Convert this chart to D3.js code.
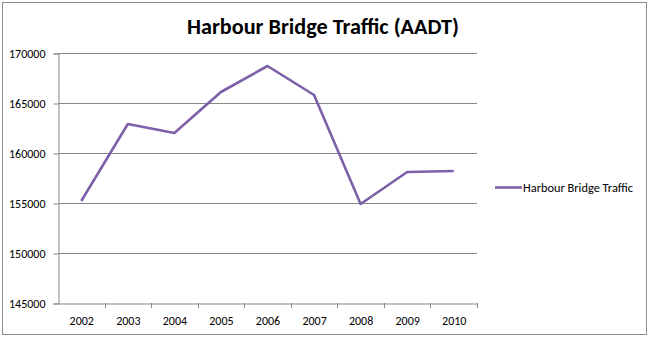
<!DOCTYPE html>
<html><head><meta charset="utf-8">
<script src="https://cdn.jsdelivr.net/npm/d3@7"></script>
<style>body{margin:0;background:#fff}svg{display:block}</style>
</head><body>
<svg id="c" width="650" height="337"></svg>
<script>
const years = ["2002","2003","2004","2005","2006","2007","2008","2009","2010"];
const traffic = [155200,162900,162000,166100,168700,165800,154900,158100,158200];
const yTicks = [145000,150000,155000,160000,165000,170000];
const title = "Harbour Bridge Traffic (AADT)";
const seriesName = "Harbour Bridge Traffic";

const svg = d3.select("#c");
const L=58, R=477, T=53, B=303;
const font = "Calibri, Carlito, 'Open Sans', 'DejaVu Sans', sans-serif";

svg.append("rect").attr("x",2.5).attr("y",2.5).attr("width",644).attr("height",332)
  .attr("fill","#fff").attr("stroke","#8c8c8c");

const x = d3.scaleBand().domain(years).range([L,R]);
const y = d3.scaleLinear().domain([145000,170000]).range([B,T]);

// gridlines
svg.append("g").selectAll("line").data(yTicks.slice(1)).join("line")
  .attr("x1",L).attr("x2",R).attr("y1",d=>Math.round(y(d))+0.5).attr("y2",d=>Math.round(y(d))+0.5)
  .attr("stroke","#878787").attr("stroke-width",1);

// y axis
const ya = svg.append("g").attr("transform",`translate(${L+0.5},0.5)`)
  .call(d3.axisLeft(y).tickValues(yTicks).tickSize(5).tickPadding(8).tickFormat(d3.format("d")));
ya.select(".domain").attr("stroke","#878787");
ya.selectAll(".tick line").attr("stroke","#878787");
ya.selectAll("text").attr("font-family",font).attr("font-size",12).attr("fill","#000");

// x axis
const xa = svg.append("g").attr("transform",`translate(0.5,${B+0.5})`)
  .call(d3.axisBottom(x).tickSize(0).tickPadding(13));
xa.select(".domain").attr("stroke","#878787");
xa.selectAll("text").attr("font-family",font).attr("font-size",12).attr("fill","#000");
svg.append("g").selectAll("line").data(years.slice(1).concat(["end"])).join("line")
  .attr("x1",(d,i)=>Math.round(L+x.step()*(i+1))+0.5).attr("x2",(d,i)=>Math.round(L+x.step()*(i+1))+0.5)
  .attr("y1",B).attr("y2",B+5).attr("stroke","#878787");

// line
const line = d3.line().x((d,i)=>x(years[i])+x.bandwidth()/2).y(d=>y(d));
svg.append("path").datum(traffic).attr("d",line).attr("fill","none")
  .attr("stroke","#7d60a8").attr("stroke-width",2.6).attr("stroke-linejoin","round");

// title
svg.append("text").attr("x",323).attr("y",34).attr("text-anchor","middle")
  .attr("font-family",font).attr("font-weight","bold").attr("font-size",23)
  .attr("textLength",272).attr("lengthAdjust","spacingAndGlyphs")
  .attr("fill","#000").text(title);

// legend
svg.append("line").attr("x1",495).attr("x2",522).attr("y1",187.5).attr("y2",187.5)
  .attr("stroke","#7d60a8").attr("stroke-width",2.6);
svg.append("text").attr("x",523).attr("y",191.5).attr("font-family",font).attr("font-size",12)
  .attr("textLength",110).attr("lengthAdjust","spacingAndGlyphs").attr("fill","#000").text(seriesName);
</script>
</body></html>
